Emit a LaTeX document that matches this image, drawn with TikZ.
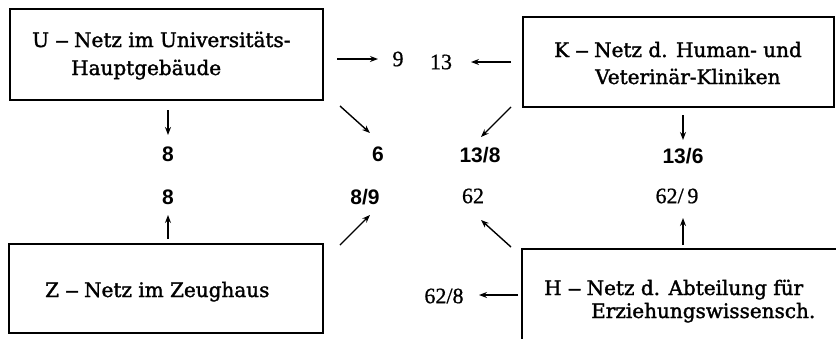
\documentclass[tikz,border=0pt]{standalone}
\usepackage{fontspec}
\setmainfont{Liberation Serif}
\newfontfamily\boxfont[FakeBold=1.6]{DejaVu Serif}
\newfontfamily\serfont[FakeBold=0.8]{Liberation Serif}
\newfontfamily\labfont{Liberation Sans}
\usetikzlibrary{arrows.meta}
\tikzset{
  netbox/.style={draw, line width=2.2pt, inner sep=0pt},
  boxtext/.style={inner sep=0pt, anchor=base west, font=\boxfont\fontsize{20}{24}\selectfont},
  boldlab/.style={inner sep=0pt, font=\labfont\bfseries\fontsize{21}{24}\selectfont},
  serlab/.style={inner sep=0pt, font=\serfont\fontsize{22}{24}\selectfont},
  arr/.style={line width=1.4pt, -{Stealth[length=8pt,width=6pt]}},
}
\newcommand{\bdash}{\hspace{0.3em}\scalebox{1.4}[1]{–}\hspace{0.25em}}
\begin{document}
\begin{tikzpicture}[x=1pt,y=-1pt]
\useasboundingbox (0,0) rectangle (836,338);
\clip (0,0) rectangle (836,338);
% boxes
\node[netbox, minimum width=313pt, minimum height=91pt] (U) at (166.5,54.5) {};
\node[netbox, minimum width=311pt, minimum height=90pt] (K) at (678.5,62) {};
\node[netbox, minimum width=314pt, minimum height=89pt] (Z) at (166,288.5) {};
\node[netbox, minimum width=340pt, minimum height=120pt] (H) at (692,309) {};
% box texts
\node[boxtext] (U1) at (32,47) {U\bdash Netz im Universitäts-};
\node[boxtext] (U2) at (71,75) {Hauptgebäude};
\node[boxtext] (K1) at (554,57) {K\bdash Netz d. Human- und};
\node[boxtext] (K2) at (595,84) {Veterinär-Kliniken};
\node[boxtext] (Z1) at (45,297) {Z\bdash Netz im Zeughaus};
\node[boxtext] (H1) at (544,295) {H\bdash Netz d. Abteilung für};
\node[boxtext] (H2) at (591,318) {Erziehungswissensch.};
% labels
\node[serlab] (n9) at (398,59) {9};
\node[serlab] (n13) at (441,62) {13};
\node[boldlab] (n6) at (378,154) {6};
\node[boldlab] (n138) at (480,155) {13/8};
\node[boldlab] (n8a) at (168,154) {8};
\node[boldlab] (n136) at (683,156) {13/6};
\node[boldlab] (n8b) at (168,197) {8};
\node[boldlab] (n89) at (365,197) {8/9};
\node[serlab] (n62) at (473,196) {62};
\node[serlab] (n629) at (677,196) {62/\,9};
\node[serlab] (n628) at (444,296) {62/8};
% arrow starts
\coordinate (s1) at (337,59);
\coordinate (s2) at (511,62);
\coordinate (s3) at (340,106);
\coordinate (s4) at (511,107);
\coordinate (s5) at (168,110);
\coordinate (s6) at (683,115);
\coordinate (s7) at (168,239);
\coordinate (s8) at (340,245);
\coordinate (s9) at (511,247);
\coordinate (s10) at (683,245);
\coordinate (s11) at (518,295);
% arrows
\draw[arr] (s1) -- (378,59) coordinate (e1);
\draw[arr] (s2) -- (471,62) coordinate (e2);
\draw[arr] (s3) -- (370,133) coordinate (e3);
\draw[arr] (s4) -- (481,137) coordinate (e4);
\draw[arr] (s5) -- (168,135) coordinate (e5);
\draw[arr] (s6) -- (683,140) coordinate (e6);
\draw[arr] (s7) -- (168,215) coordinate (e7);
\draw[arr] (s8) -- (370,215) coordinate (e8);
\draw[arr] (s9) -- (481,220) coordinate (e9);
\draw[arr] (s10) -- (683,218) coordinate (e10);
\draw[arr] (s11) -- (479,295) coordinate (e11);
\end{tikzpicture}
\end{document}
